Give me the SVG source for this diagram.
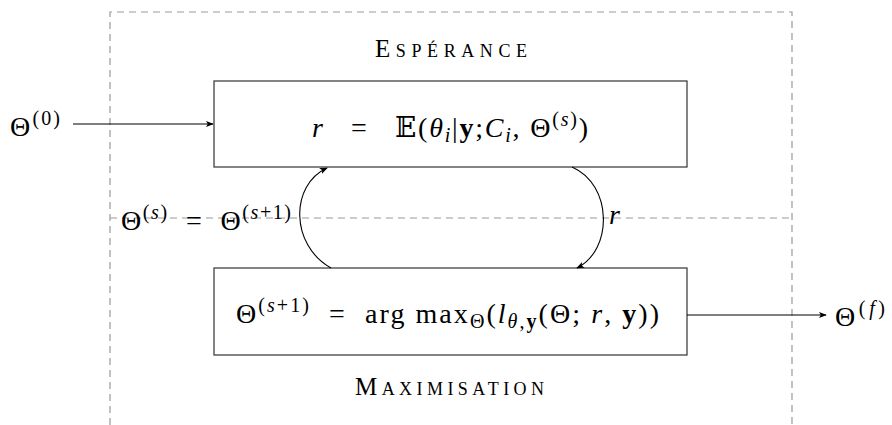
<svg xmlns="http://www.w3.org/2000/svg" width="892" height="425" viewBox="0 0 892 425">
<defs>
<marker id="ah" viewBox="0 0 10 10" refX="9" refY="5" markerWidth="8" markerHeight="8" markerUnits="userSpaceOnUse" orient="auto">
<path d="M0,1 L10,5 L0,9 L2.5,5 z" fill="#000"/>
</marker>
</defs>
<style>
text{font-family:"Liberation Serif","Times New Roman",serif;fill:#000}
.box{fill:#fff;stroke:#333;stroke-width:1.2}
.dash{fill:none;stroke:#999;stroke-width:1.2;stroke-dasharray:7,5}
.edge{fill:none;stroke:#000;stroke-width:1.1}
.it{font-style:italic}
.bf{font-weight:bold}
.sc{font-variant:small-caps;font-size:25px}
.lc{font-size:26px}
.m{font-size:28px}
.s{font-size:20px}
</style>
<rect width="892" height="425" fill="#fff"/>
<g id="frame">
<path class="dash" d="M110,425 V12 H792 V425"/>
<path class="dash" d="M110,218 H792"/>
</g>
<g id="expectation">
<rect class="box" x="214" y="81" width="473" height="86"/>
<text class="m" x="312" y="137" textLength="276" lengthAdjust="spacing"><tspan class="it">r</tspan>&#160;&#160;&#160;=&#160;&#160;&#160;<tspan font-family="DejaVu Serif">𝔼</tspan>(<tspan class="it">θ</tspan><tspan class="it s" dy="5">i</tspan><tspan dy="-5">|</tspan><tspan class="bf">y</tspan>;<tspan class="it">C</tspan><tspan class="it s" dy="5">i</tspan><tspan dy="-5">,</tspan>&#160;Θ<tspan class="s" dy="-11">(<tspan class="it">s</tspan>)</tspan><tspan dy="11">)</tspan></text>
<text class="sc" x="375" y="57" textLength="152" lengthAdjust="spacing">E<tspan class="lc">spérance</tspan></text>
</g>
<g id="maximisation">
<rect class="box" x="214" y="268" width="473" height="87"/>
<text class="m" x="236" y="323" textLength="423" lengthAdjust="spacing">Θ<tspan class="s" dy="-11">(<tspan class="it">s</tspan>+1)</tspan><tspan dy="11">&#160;&#160;=&#160;&#160;arg&#160;max</tspan><tspan class="s" dy="5">Θ</tspan><tspan dy="-5">(</tspan><tspan class="it">l</tspan><tspan class="s" dy="5"><tspan class="it">θ</tspan>,<tspan class="bf">y</tspan></tspan><tspan dy="-5">(Θ;&#160;</tspan><tspan class="it">r</tspan>,&#160;<tspan class="bf">y</tspan>))</text>
<text class="sc" x="355" y="395" textLength="189" lengthAdjust="spacing">M<tspan class="lc">aximisation</tspan></text>
</g>
<g id="theta0">
<text class="m" x="10" y="136" textLength="50" lengthAdjust="spacing">Θ<tspan class="s" dy="-11">(0)</tspan></text>
</g>
<g id="thetaf">
<text class="m" x="835" y="326" textLength="50" lengthAdjust="spacing">Θ<tspan class="s" dy="-11">(<tspan class="it">f</tspan>)</tspan></text>
</g>
<g id="connectors">
<path class="edge" d="M73,124 H213" marker-end="url(#ah)"/>
<path class="edge" d="M687,315 H826" marker-end="url(#ah)"/>
<path class="edge" d="M331,268 C290,245 290,185 327,168" marker-end="url(#ah)"/>
<path class="edge" d="M572,167 C613,185 613,250 577,268" marker-end="url(#ah)"/>
<text class="m" x="121" y="230" textLength="170" lengthAdjust="spacing">Θ<tspan class="s" dy="-11">(<tspan class="it">s</tspan>)</tspan><tspan dy="11">&#160;&#160;=&#160;&#160;Θ</tspan><tspan class="s" dy="-11">(<tspan class="it">s</tspan>+1)</tspan></text>
<text class="m it" x="609" y="224">r</text>
</g>
</svg>
